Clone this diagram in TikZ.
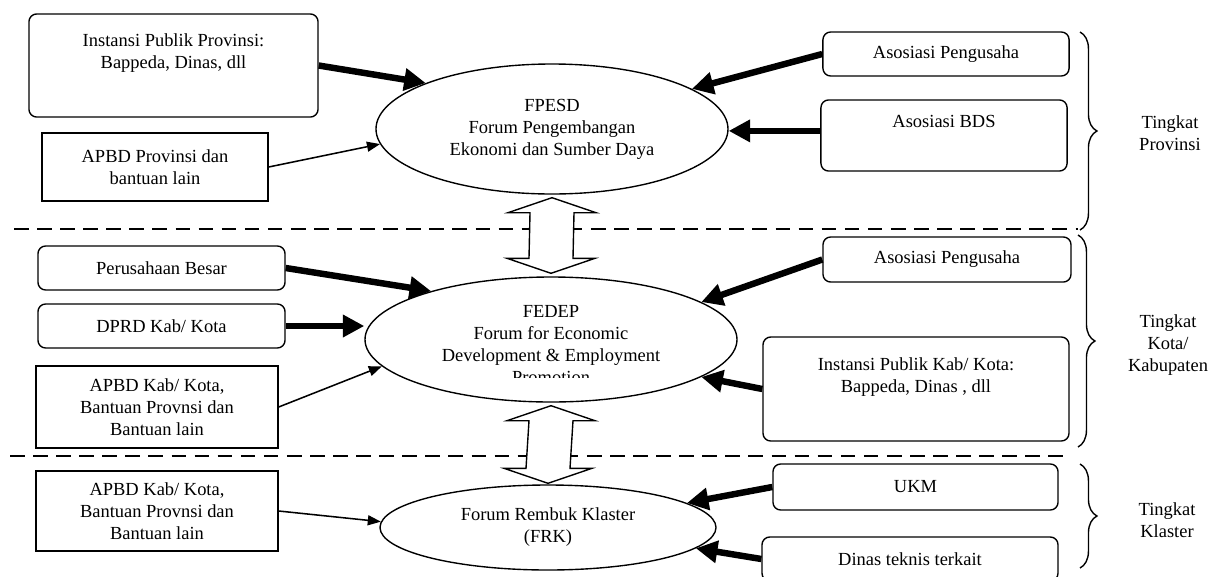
\documentclass[tikz,border=0pt]{standalone}
\usepackage{fontspec}
\setmainfont{Liberation Serif}
\usetikzlibrary{shapes.geometric, arrows.meta, calc, decorations.pathreplacing}

\begin{document}
\begin{tikzpicture}[x=0.65pt, y=-0.65pt, font=\fontsize{12}{14.3}\selectfont,
  rbox/.style={rectangle, rounded corners=5pt, draw, line width=0.9pt, align=center, inner sep=2pt},
  sbox/.style={rectangle, draw, line width=0.9pt, align=center, inner sep=2pt},
  forum/.style={ellipse, draw, line width=0.9pt, align=center, inner sep=0pt},
  strong/.style={-{Triangle[length=14pt,width=14pt]}, line width=4.2pt},
  weak/.style={-{Triangle[length=8.5pt,width=6.5pt]}, line width=1pt},
  level/.style={dash pattern=on 9.5pt off 5.5pt, line width=0.9pt},
  lvlbrace/.style={decorate, decoration={brace, amplitude=11pt}, line width=0.9pt},
  blockarrow/.style={draw, fill=white, line width=0.9pt, line join=miter}
]
\useasboundingbox (0,0) rectangle (1216,576);

\draw[level] (14,229) -- (1078,229);
\draw[level] (10,456) -- (1068,456);

% tingkat provinsi
\node[rbox, minimum width=187.9pt, minimum height=67pt] (instprov) at (173.5,65.5) {Instansi Publik Provinsi:\\Bappeda, Dinas, dll\\ \strut};
\node[sbox, minimum width=146.9pt, minimum height=44.2pt] (apbdprov) at (155,167) {APBD Provinsi dan\\bantuan lain};
\node[rbox, minimum width=160pt, minimum height=28.6pt] (asosprov) at (946,54) {Asosiasi Pengusaha};
\node[rbox, minimum width=160pt, minimum height=46.2pt] (bds) at (944,135.5) {Asosiasi BDS\\ \strut};
\node[forum, minimum width=228.8pt, minimum height=84.5pt] (fpesd) at (552,129) {FPESD\\Forum Pengembangan\\Ekonomi dan Sumber Daya};

\draw[strong] (instprov.east) -- (fpesd.160);
\draw[weak] (apbdprov.east) -- (fpesd.185);
\draw[strong] (asosprov.west) -- (fpesd.16);
\draw[strong] ([yshift=3pt]bds.west) -- ([yshift=3pt]bds.west -| fpesd.east);

% tingkat kota/kabupaten
\node[rbox, minimum width=160.6pt, minimum height=28.6pt] (besar) at (161.5,268) {Perusahaan Besar};
\node[rbox, minimum width=160.6pt, minimum height=28.6pt] (dprd) at (161.5,326) {DPRD Kab/ Kota};
\node[sbox, minimum width=157.3pt, minimum height=53.3pt] (apbdkab) at (157,407) {APBD Kab/ Kota,\\Bantuan Provnsi dan\\Bantuan lain};
\node[rbox, minimum width=161.2pt, minimum height=29.3pt] (asoskab) at (947,259.5) {Asosiasi Pengusaha};
\node[rbox, minimum width=198.9pt, minimum height=67.6pt] (instkab) at (916,389) {Instansi Publik Kab/ Kota:\\Bappeda, Dinas , dll\\ \strut};
\node[forum, minimum width=241.8pt, minimum height=81.25pt] (fedep) at (551,339.5) {};
\begin{scope}
  \clip (365,270) rectangle (737,377);
  \node[align=center] (fedeptext) at (551,345) {FEDEP\\Forum for Economic\\Development \& Employment\\Promotion};
\end{scope}

\draw[strong] (besar.east) -- (fedep.158);
\draw[strong] (dprd.east) -- (dprd.east -| fedep.west);
\draw[weak] (apbdkab.east) -- (fedep.189);
\draw[strong] (asoskab.west) -- (fedep.14);
\draw[strong] (instkab.west) -- (fedep.346);

% tingkat klaster
\node[sbox, minimum width=157.3pt, minimum height=52pt] (apbdkl) at (157,511) {APBD Kab/ Kota,\\Bantuan Provnsi dan\\Bantuan lain};
\node[rbox, minimum width=185.3pt, minimum height=29.9pt] (ukm) at (915.5,487) {UKM};
\node[rbox, minimum width=192.4pt, minimum height=28.6pt] (dinas) at (910,559) {Dinas teknis terkait};
\node[forum, minimum width=218.4pt, minimum height=55.25pt] (frk) at (548,527.5) {Forum Rembuk Klaster\\(FRK)};

\draw[weak] (apbdkl.east) -- (frk.178);
\draw[strong] (ukm.west) -- (frk.10);
\draw[strong] (dinas.west) -- (frk.352);

% panah dua arah antar forum
\coordinate (ua) at ($(fpesd.south)+(0,3)$);
\coordinate (ub) at ($(fedep.north)+(0,-3)$);
\draw[blockarrow] (ua) -- ($(ua)+(44,15)$) -- ($(ua)+(22,15)$) -- ($(ub)+(22,-15)$) -- ($(ub)+(44,-15)$)
  -- (ub) -- ($(ub)+(-44,-15)$) -- ($(ub)+(-22,-15)$) -- ($(ua)+(-22,15)$) -- ($(ua)+(-44,15)$) -- cycle;
\coordinate (va) at ($(fedep.south)+(0,3)$);
\coordinate (vb) at ($(frk.north)+(0,-1)$);
\draw[blockarrow] (va) -- ($(va)+(44,15)$) -- ($(va)+(22,15)$) -- ($(vb)+(22,-15)$) -- ($(vb)+(44,-15)$)
  -- (vb) -- ($(vb)+(-44,-15)$) -- ($(vb)+(-22,-15)$) -- ($(va)+(-22,15)$) -- ($(va)+(-44,15)$) -- cycle;

% tingkat
\draw[lvlbrace] (1080,32) -- (1080,230);
\draw[lvlbrace] (1078,235) -- (1078,447);
\draw[lvlbrace] (1080,464) -- (1080,568);
\node[align=center] (lprov) at (1170,133.5) {Tingkat\\Provinsi};
\node[align=center] (lkab) at (1168,345) {Tingkat\\Kota/\\Kabupaten};
\node[align=center] (lklaster) at (1167,520) {Tingkat\\Klaster};
\end{tikzpicture}
\end{document}
